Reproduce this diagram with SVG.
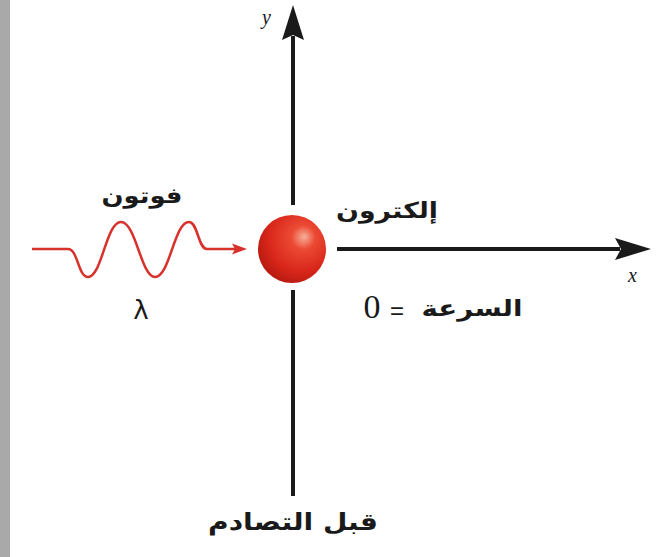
<svg xmlns="http://www.w3.org/2000/svg" width="662" height="557" viewBox="0 0 662 557">
<style>
.axis{stroke:#1a1a1a;stroke-width:4;fill:none}
.ar{font-family:"DejaVu Sans","Noto Sans",sans-serif;font-weight:bold;fill:#1a1a1a}
.lbl{font-family:"Liberation Serif",serif;font-style:italic;fill:#1a1a1a;font-size:20px}
</style>
<defs>
<radialGradient id="ballG" cx="0.62" cy="0.36" r="0.7" fx="0.68" fy="0.32">
<stop offset="0" stop-color="#f6b09a"/>
<stop offset="0.25" stop-color="#ec4a34"/>
<stop offset="0.7" stop-color="#d8261a"/>
<stop offset="1" stop-color="#b41810"/>
</radialGradient>
</defs>
<rect x="0" y="0" width="10" height="557" fill="#a9a9a9"/>
<g id="connectors">
<line class="axis" x1="293" y1="36" x2="293" y2="205"/>
<line class="axis" x1="293" y1="290" x2="293" y2="496"/>
<polygon points="293,5 304,40 293,35 282,40" fill="#1a1a1a"/>
<line class="axis" x1="337" y1="249" x2="620" y2="249"/>
<polygon points="651,249 615,238 621,249 615,260" fill="#1a1a1a"/>
<path d="M32,249 L68,249 C78,249 78,277 88,277 C102,277 106,222 121,222 C136,222 141,277 155,277 C170,277 174,222 189,222 C198,222 198,249 207,249 L236,249" fill="none" stroke="#d8322c" stroke-width="2.5"/>
<polygon points="247,249 232,243.5 235,249 232,254.5" fill="#d8322c"/>
</g>
<g id="y-label"><text class="lbl" x="262" y="24">y</text></g>
<g id="x-label"><text class="lbl" x="628" y="282">x</text></g>
<g id="photon">
<text class="ar" x="142" y="203" font-size="22" text-anchor="middle" textLength="81" lengthAdjust="spacingAndGlyphs">فوتون</text>
<text x="141" y="319" font-family="DejaVu Sans,sans-serif" font-size="26" text-anchor="middle" fill="#1a1a1a">λ</text>
</g>
<g id="electron">
<circle cx="292" cy="249" r="34" fill="url(#ballG)"/>
<text class="ar" x="387" y="218" font-size="22" text-anchor="middle" textLength="102" lengthAdjust="spacingAndGlyphs">إلكترون</text>
</g>
<g id="velocity">
<text x="372" y="318" font-family="Liberation Serif,serif" font-size="34" text-anchor="middle" fill="#1a1a1a">0</text>
<text x="397" y="319" font-family="Liberation Sans,sans-serif" font-size="24" text-anchor="middle" fill="#1a1a1a">=</text>
<text class="ar" x="472" y="316" font-size="22" text-anchor="middle" textLength="101" lengthAdjust="spacingAndGlyphs">السرعة</text>
</g>
<g id="title"><text class="ar" x="293" y="530" font-size="24" text-anchor="middle" textLength="170" lengthAdjust="spacingAndGlyphs">قبل التصادم</text></g>
</svg>
